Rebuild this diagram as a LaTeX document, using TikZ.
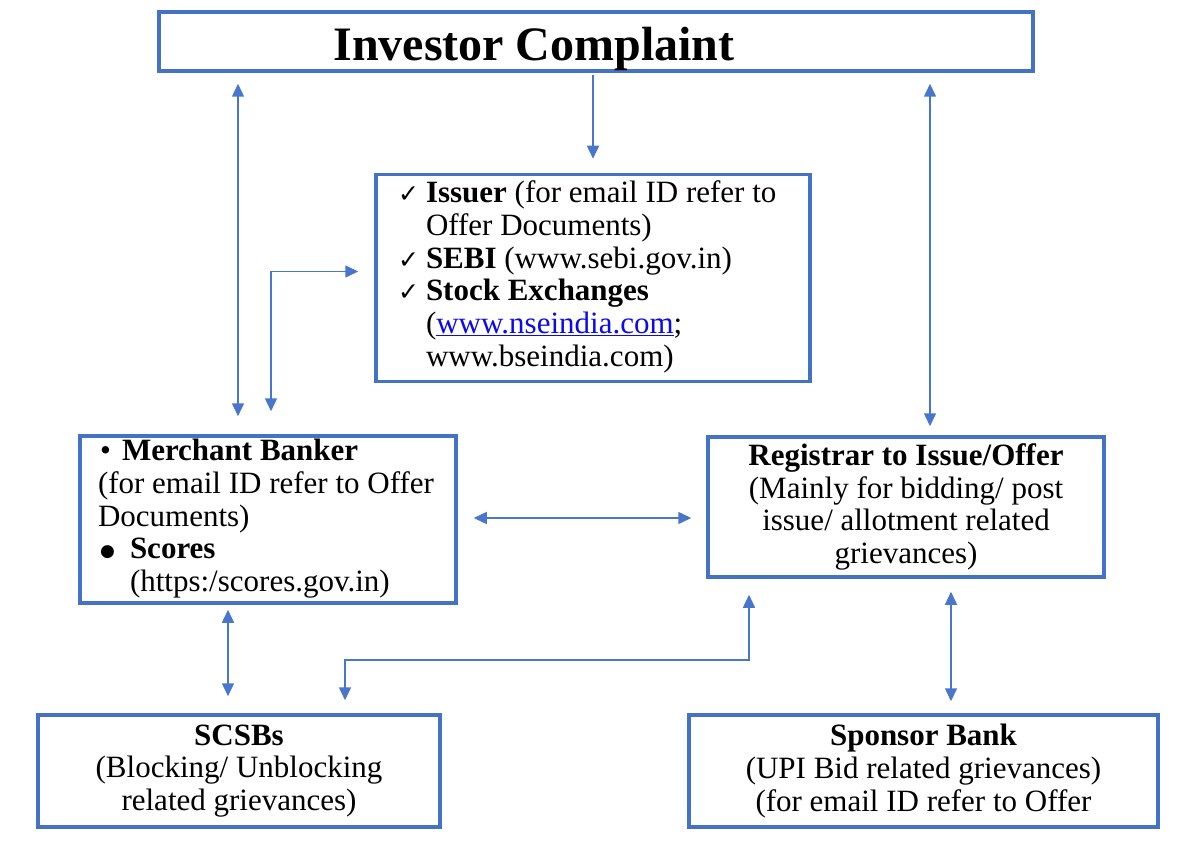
\documentclass[tikz,border=0pt]{standalone}
\usepackage{fontspec}
\setmainfont{Liberation Serif}
\newfontfamily\symfont{DejaVu Sans}
\usetikzlibrary{arrows.meta}
\definecolor{boxblue}{RGB}{68,114,196}
\definecolor{arrblue}{RGB}{72,118,205}
\definecolor{linkblue}{RGB}{10,10,235}
\newcommand{\chk}{\makebox[28pt][l]{\symfont\fontsize{25}{25}\selectfont ✓}}
\newcommand{\leftblock}[2]{\makebox[#1][l]{\begin{tabular}{@{}l@{}}#2\end{tabular}}}

\begin{document}
\begin{tikzpicture}[x=1pt, y=-1pt,
		box/.style={draw=boxblue, line width=3.5pt, inner sep=0pt, font=\fontsize{31}{32.7}\selectfont},
		arr/.style={draw=arrblue, line width=1.5pt, -{Triangle[length=13pt, width=12pt]}},
		dbl/.style={arr, {Triangle[length=13pt, width=12pt]}-{Triangle[length=13pt, width=12pt]}}]
		\useasboundingbox (0,0) rectangle (1182,845);
		\node [box, minimum width=874pt, minimum height=59pt] (title) at (596, 41.5) {};
		\node [font=\fontsize{48}{50}\selectfont\bfseries] (titletext) at (534, 49) {Investor Complaint};
		\node [box, minimum width=434pt, minimum height=207pt] (issuer) at (593, 278) {\leftblock{390pt}{\chk\textbf{Issuer} (for email ID refer to\\\hspace*{28pt}Offer Documents)\\\chk\textbf{SEBI} (www.sebi.gov.in)\\\chk\textbf{Stock Exchanges}\\\hspace*{28pt}(\textcolor{linkblue}{\underline{www.nseindia.com}};\\\hspace*{28pt}www.bseindia.com)}};
		\node [box, minimum width=376pt, minimum height=167pt] (merchant) at (268, 519.5) {\leftblock{340pt}{\makebox[24pt][l]{\hspace{2pt}•}\textbf{Merchant Banker}\\(for email ID refer to Offer\\Documents)\\\makebox[32pt][l]{\hspace{2pt}\raisebox{2pt}{\symfont\fontsize{17}{17}\selectfont ●}}\textbf{Scores}\\\hspace*{32pt}(https:/scores.gov.in)}};
		\node [box, minimum width=396pt, minimum height=140pt, align=center] (registrar) at (906, 507) {\textbf{Registrar to Issue/Offer}\\(Mainly for bidding/ post\\issue/ allotment related\\grievances)};
		\node [box, minimum width=402pt, minimum height=112pt, align=center] (scsb) at (239, 771) {\textbf{SCSBs}\\(Blocking/ Unblocking\\related grievances)};
		\node [box, minimum width=469pt, minimum height=112pt, align=center] (sponsor) at (923.5, 771) {\textbf{Sponsor Bank}\\(UPI Bid related grievances)\\(for email ID refer to Offer};
		\draw [arr, shorten <=2pt, shorten >=14pt] (title.south -| issuer.north) -- (issuer.north);
		\draw [dbl, shorten <=11pt, shorten >=18pt] ([xshift=-30pt]merchant.north |- title.south) -- ([xshift=-30pt]merchant.north);
		\draw [dbl, shorten <=23pt, shorten >=16pt] ([xshift=3pt]merchant.north) |- ([yshift=6.5pt]issuer.west);
		\draw [dbl, shorten <=11pt, shorten >=9pt] ([xshift=24pt]registrar.north |- title.south) -- ([xshift=24pt]registrar.north);
		\draw [dbl, shorten <=16pt, shorten >=15pt] ([yshift=1.5pt]merchant.east) -- ([yshift=1.5pt]merchant.east -| registrar.west);
		\draw [dbl, shorten <=5pt, shorten >=17pt] ([xshift=-40pt]merchant.south) -- ([xshift=-40pt]merchant.south |- scsb.north);
		\draw [dbl, shorten <=16pt, shorten >=13pt] ([xshift=-157pt]registrar.south) -- ++(0,81) -| ([xshift=106pt]scsb.north);
		\draw [dbl, shorten <=13pt, shorten >=12pt] ([xshift=45pt]registrar.south) -- ([xshift=45pt]registrar.south |- sponsor.north);
	\end{tikzpicture}
\end{document}
